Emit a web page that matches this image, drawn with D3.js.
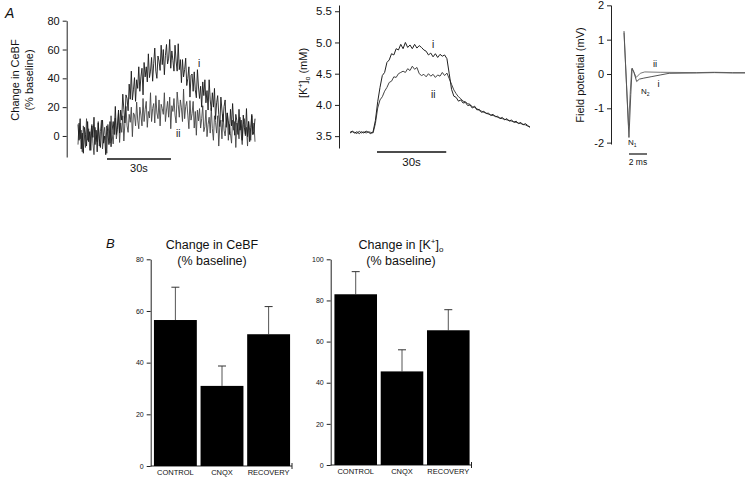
<!DOCTYPE html>
<html><head><meta charset="utf-8">
<script src="https://cdn.jsdelivr.net/npm/d3@7"></script>
<style>
body{margin:0;background:#fff}
svg{display:block}
text{font-family:"Liberation Sans",Arial,sans-serif;fill:#111}
</style>
</head><body>
<svg id="fig" width="750" height="483"></svg>
<script>
// ---------- DATA ----------
// Panel A (left): change in CeBF (% baseline), one sample every 0.5 s
const cebfSampleStep = 0.5;
const cebfTraceI = [8,-3,12,-9,2,-12,6,1,-7,10,
  -4,3,-10,7,-1,13,-6,4,-11,9,
  -2,-8,5,11,-5,0,-13,7,3,-6,
  10,-7.5,4,10,1,20.5,1,7,18,2,
  18,11,29,18.5,9,28.5,26,17.5,36,25.5,
  45,25,32,40.5,24,39,33,48,31,41,
  47,28.5,51,41,48,37.5,57,40.5,45,54.5,
  38,50.5,61,45,40,55.5,52,45.5,63,49.5,
  60,42.5,56,63.5,50,54,67,47,59,52.5,
  45,63,52,45,64,46,53,37,53,41,
  46,54,35,40,48,27,42,43,31,44.5,
  32,26.5,46,34,26,34.5,20,37.5,28,39,
  23,31.5,18,39,25,17.5,30,20,33,11.5,
  23,28,15,6.5,27,18,10,20.5,25,6,
  16,10.5,1,18.5,7,22.5,9,0.5,15,10.5,
  1,18.5,4,11,-3,14.5,6,1,19,-0.5,
  10,-4,6,15,1,3,12];
const cebfTraceII = [-6,9,-2,4,-11,7,0,-8,12,-3,
  5,-10,2,8,-5,-13,6,1,-4,10,
  -7,3,11,-9,0,6,-3,-12,8,2,
  -5,14,1,-5.5,7,12.5,-2,4.5,16,-4.5,
  9,2.5,14,-3.5,9,20.5,7,2.5,15,9.5,
  20,-0.5,16,14.5,7,23.5,11,5,20,14.5,
  7,26,10,18.5,24,6,17,12.5,30,10,
  19,22.5,9,28,16,12,25,7,22,19,
  15,30,10,18,24,13,27,5,21,17,
  26,14.5,9,30.5,22,13,25,19.5,10,32.5,
  12,20.5,24,14.5,5,24.5,11,15.5,24,5.5,
  17,0.5,18,10.5,19,5.5,12,21,3,6.5,
  18,-0.5,8,13,2,19.5,5,-3,14,9.5,
  2,14,-7,7.5,11,-2,15,4,0,9,
  16,-3,8,1.5,-5,11,4,10,-8,9,
  5,-2,13,2,-6,8,12,0,6,-7,
  10,4,-3,14,1,9,-4];
const cebfTicks = [0,20,40,60,80];
const cebfScaleBarStart = 13.6, scaleBarSeconds = 30;

// Panel A (middle): [K+]o (mM), one sample per second
const kTraceI = [3.56,3.58,3.55,3.57,3.54,3.57,3.55,3.58,3.56,3.54,3.57,
  3.75,4.05,4.28,4.47,4.52,4.68,4.72,4.82,4.80,4.90,4.88,4.97,
  4.90,5.00,4.92,4.96,4.90,4.97,4.91,4.95,4.92,
  4.88,4.86,4.80,4.83,4.77,4.82,4.76,4.81,4.78,4.80,4.74,
  4.50,4.25,4.14,4.12,4.06,4.08,4.03,4.04,3.99,4.00,
  3.95,3.98,3.92,3.93,3.88,3.90,3.86,3.87,3.83,3.85,3.81,3.82,3.78,3.80,3.76,3.78,3.74,3.76,3.72,3.74,3.70,3.72,3.68,3.70,3.67,3.64];
const kTraceII = [3.55,3.57,3.56,3.54,3.58,3.55,3.57,3.55,3.57,3.56,3.55,
  3.70,3.95,4.08,4.13,4.22,4.28,4.36,4.38,4.45,4.44,4.50,4.52,
  4.54,4.52,4.58,4.55,4.62,4.57,4.60,4.50,4.47,
  4.49,4.45,4.50,4.46,4.49,4.44,4.48,4.46,4.52,4.47,4.51,
  4.42,4.33,4.24,4.18,4.13,4.10,4.06,4.05,4.02,4.01,
  3.97,3.96,3.94,3.91,3.90,3.88,3.87,3.85,3.84,3.83,3.82,3.80,3.79,3.78,3.77,3.76,3.75,3.74,3.73,3.72,3.71,3.70,3.69,3.68,3.66,3.65];
const kTicks = [3.5,4.0,4.5,5.0,5.5];
const kScaleBarStart = 11.7;

// Panel A (right): field potential (mV) vs time (ms)
const fpTimeI = [0,0.55,0.75,0.9,1.1,1.4,1.7,2.2,3,4,5,8,10,12,13.4];
const fpValueI = [1.25,-1.85,-0.6,0.17,0.05,-0.22,-0.15,-0.12,-0.08,-0.03,0.02,0.03,0.04,0.03,0.03];
const fpTimeII = [0,0.5,0.7,0.85,1.05,1.35,1.8,2.3,4,8,10,12,13.4];
const fpValueII = [1.2,-1.5,-0.5,0.15,0.08,-0.1,0.02,0.06,0.05,0.04,0.05,0.04,0.04];
const fpTicks = [-2,-1,0,1,2];
const fpScaleBarStart = 0.55, fpScaleBarMs = 2;

// Panel B: bar charts
const barCategories = ["CONTROL","CNQX","RECOVERY"];
const cebfMeans = [56.5,31,51];
const cebfErrors = [12.7,7.7,10.7];
const cebfBarTicks = [0,20,40,60,80];
const kMeans = [83,45.5,65.5];
const kErrors = [11,10.5,10];
const kBarTicks = [0,20,40,60,80,100];

// ---------- DRAW ----------
const svg = d3.select("#fig");

function styleAxis(g, fs){
  g.selectAll("path,line").attr("stroke","#222").attr("stroke-width",1);
  g.selectAll("text").attr("font-size",fs).attr("fill","#111")
    .attr("font-family","'Liberation Sans',Arial,sans-serif");
}

// panel letters
svg.append("text").attr("x",5).attr("y",18).attr("font-size",14).attr("font-style","italic").text("A");
svg.append("text").attr("x",106).attr("y",248).attr("font-size",13).attr("font-style","italic").text("B");

// ---- A1 CeBF trace ----
{
  const x = d3.scaleLinear([0,83],[78,255]);
  const y = d3.scaleLinear([-14.6,80],[157,20.7]);
  const ax = svg.append("g").attr("transform","translate(66.7,0)")
    .call(d3.axisLeft(y).tickValues(cebfTicks).tickSize(4).tickSizeOuter(0).tickPadding(3));
  styleAxis(ax, 11);
  const line = d3.line().x((d,i)=>x(i*cebfSampleStep)).y(d=>y(d));
  svg.append("path").datum(cebfTraceII).attr("d",line).attr("fill","none").attr("stroke","#444").attr("stroke-width",0.9);
  svg.append("path").datum(cebfTraceI).attr("d",line).attr("fill","none").attr("stroke","#1a1a1a").attr("stroke-width",0.9);
  svg.append("line").attr("x1",x(cebfScaleBarStart)).attr("x2",x(cebfScaleBarStart+scaleBarSeconds))
    .attr("y1",159).attr("y2",159).attr("stroke","#111").attr("stroke-width",1.6);
  svg.append("text").attr("x",x(cebfScaleBarStart+scaleBarSeconds/2)).attr("y",172).attr("text-anchor","middle").attr("font-size",11).text("30s");
  svg.append("text").attr("x",198).attr("y",67).attr("font-size",10).text("i");
  svg.append("text").attr("x",176).attr("y",137).attr("font-size",10).attr("fill","#555").text("ii");
  const lab = svg.append("text").attr("transform","translate(19,80) rotate(-90)").attr("text-anchor","middle").attr("font-size",11);
  lab.append("tspan").attr("x",0).attr("dy",0).text("Change in CeBF");
  lab.append("tspan").attr("x",0).attr("dy",14).text("(% baseline)");
}

// ---- A2 K+ trace ----
{
  const x = d3.scaleLinear([0,78],[350,530]);
  const y = d3.scaleLinear([3.31,5.6],[148,5]);
  const ax = svg.append("g").attr("transform","translate(339,0)")
    .call(d3.axisLeft(y).tickValues(kTicks).tickFormat(d3.format(".1f")).tickSize(4).tickSizeOuter(0).tickPadding(3));
  styleAxis(ax, 11.5);
  const line = d3.line().x((d,i)=>x(i)).y(d=>y(d));
  svg.append("path").datum(kTraceII).attr("d",line).attr("fill","none").attr("stroke","#444").attr("stroke-width",1);
  svg.append("path").datum(kTraceI).attr("d",line).attr("fill","none").attr("stroke","#222").attr("stroke-width",1);
  svg.append("line").attr("x1",x(kScaleBarStart)).attr("x2",x(kScaleBarStart+scaleBarSeconds))
    .attr("y1",152).attr("y2",152).attr("stroke","#111").attr("stroke-width",1.6);
  svg.append("text").attr("x",x(kScaleBarStart+scaleBarSeconds/2)).attr("y",166).attr("text-anchor","middle").attr("font-size",11.5).text("30s");
  svg.append("text").attr("x",432).attr("y",48).attr("font-size",10).text("i");
  svg.append("text").attr("x",431).attr("y",98).attr("font-size",10).attr("fill","#555").text("ii");
  const lab = svg.append("text").attr("transform","translate(307,73) rotate(-90)").attr("text-anchor","middle").attr("font-size",11);
  lab.append("tspan").text("[K");
  lab.append("tspan").attr("font-size",7).attr("dy",-4).text("+");
  lab.append("tspan").attr("dy",4).text("]");
  lab.append("tspan").attr("font-size",7).attr("dy",3).text("o");
  lab.append("tspan").attr("dy",-3).text(" (mM)");
}

// ---- A3 field potential ----
{
  const x = d3.scaleLinear([0,13.4],[624,745]);
  const y = d3.scaleLinear([-2.04,2.01],[144,5]);
  const ax = svg.append("g").attr("transform","translate(611,0)")
    .call(d3.axisLeft(y).tickValues(fpTicks).tickFormat(d=>String(d)).tickSize(4).tickSizeOuter(0).tickPadding(3));
  styleAxis(ax, 11);
  const line = d3.line().x(d=>x(d[0])).y(d=>y(d[1]));
  svg.append("path").datum(d3.zip(fpTimeII,fpValueII)).attr("d",line).attr("fill","none").attr("stroke","#777").attr("stroke-width",1);
  svg.append("path").datum(d3.zip(fpTimeI,fpValueI)).attr("d",line).attr("fill","none").attr("stroke","#555").attr("stroke-width",1);
  svg.append("line").attr("x1",x(fpScaleBarStart)).attr("x2",x(fpScaleBarStart+fpScaleBarMs))
    .attr("y1",154).attr("y2",154).attr("stroke","#111").attr("stroke-width",1.2);
  svg.append("text").attr("x",x(fpScaleBarStart+fpScaleBarMs/2)).attr("y",165).attr("text-anchor","middle").attr("font-size",8.5).text("2 ms");
  svg.append("text").attr("x",653).attr("y",67).attr("font-size",9.5).text("ii");
  svg.append("text").attr("x",657.5).attr("y",87).attr("font-size",9.5).text("i");
  const n2 = svg.append("text").attr("x",641).attr("y",94).attr("font-size",8);
  n2.append("tspan").text("N"); n2.append("tspan").attr("font-size",5).attr("dy",2).text("2");
  const n1 = svg.append("text").attr("x",628).attr("y",145).attr("font-size",8);
  n1.append("tspan").text("N"); n1.append("tspan").attr("font-size",5).attr("dy",2).text("1");
  svg.append("text").attr("transform","translate(584,75) rotate(-90)").attr("text-anchor","middle").attr("font-size",11).text("Field potential (mV)");
}

// ---- bar charts ----
function barPanel(o){
  const x = d3.scaleBand(barCategories,o.xr).paddingInner(0.08).paddingOuter(0.02);
  const y = d3.scaleLinear([0,o.max],[o.y0,259.3]);
  const ax = svg.append("g").attr("transform",`translate(${o.axisX},0)`)
    .call(d3.axisLeft(y).tickValues(o.ticks).tickSize(4).tickSizeOuter(0).tickPadding(3));
  styleAxis(ax, 7);
  svg.append("line").attr("x1",o.axisX).attr("x2",o.xr[1]+1).attr("y1",o.y0).attr("y2",o.y0).attr("stroke","#222");
  svg.append("line").attr("x1",o.xr[1]+1).attr("x2",o.xr[1]+1).attr("y1",o.y0-3).attr("y2",o.y0+3).attr("stroke","#222");
  barCategories.forEach((c,i)=>{
    const cx = x(c)+x.bandwidth()/2;
    svg.append("line").attr("x1",cx).attr("x2",cx).attr("y1",y(o.means[i])).attr("y2",y(o.means[i]+o.errs[i]))
      .attr("stroke","#555").attr("stroke-width",1);
    svg.append("line").attr("x1",cx-4).attr("x2",cx+4).attr("y1",y(o.means[i]+o.errs[i])).attr("y2",y(o.means[i]+o.errs[i]))
      .attr("stroke","#333").attr("stroke-width",1);
    svg.append("rect").attr("x",x(c)).attr("y",y(o.means[i])).attr("width",x.bandwidth())
      .attr("height",y(0)-y(o.means[i])).attr("fill","#000");
    svg.append("text").attr("x",cx).attr("y",o.y0+8.5).attr("text-anchor","middle").attr("font-size",7.5).text(c);
  });
  const t = svg.append("text").attr("x",o.titleX).attr("y",249).attr("text-anchor","middle").attr("font-size",12.5);
  o.title(t);
  svg.append("text").attr("x",o.titleX).attr("y",265).attr("text-anchor","middle").attr("font-size",12.5).text("(% baseline)");
}
barPanel({xr:[153,291],axisX:150.7,y0:466,max:80,ticks:cebfBarTicks,means:cebfMeans,errs:cebfErrors,titleX:212,
  title:t=>t.text("Change in CeBF")});
barPanel({xr:[333.5,470.5],axisX:330.7,y0:465,max:100,ticks:kBarTicks,means:kMeans,errs:kErrors,titleX:401,
  title:t=>{t.append("tspan").text("Change in [K");
    t.append("tspan").attr("font-size",8).attr("dy",-5).text("+");
    t.append("tspan").attr("dy",5).text("]");
    t.append("tspan").attr("font-size",8).attr("dy",3).text("o");}});
</script>
</body></html>
